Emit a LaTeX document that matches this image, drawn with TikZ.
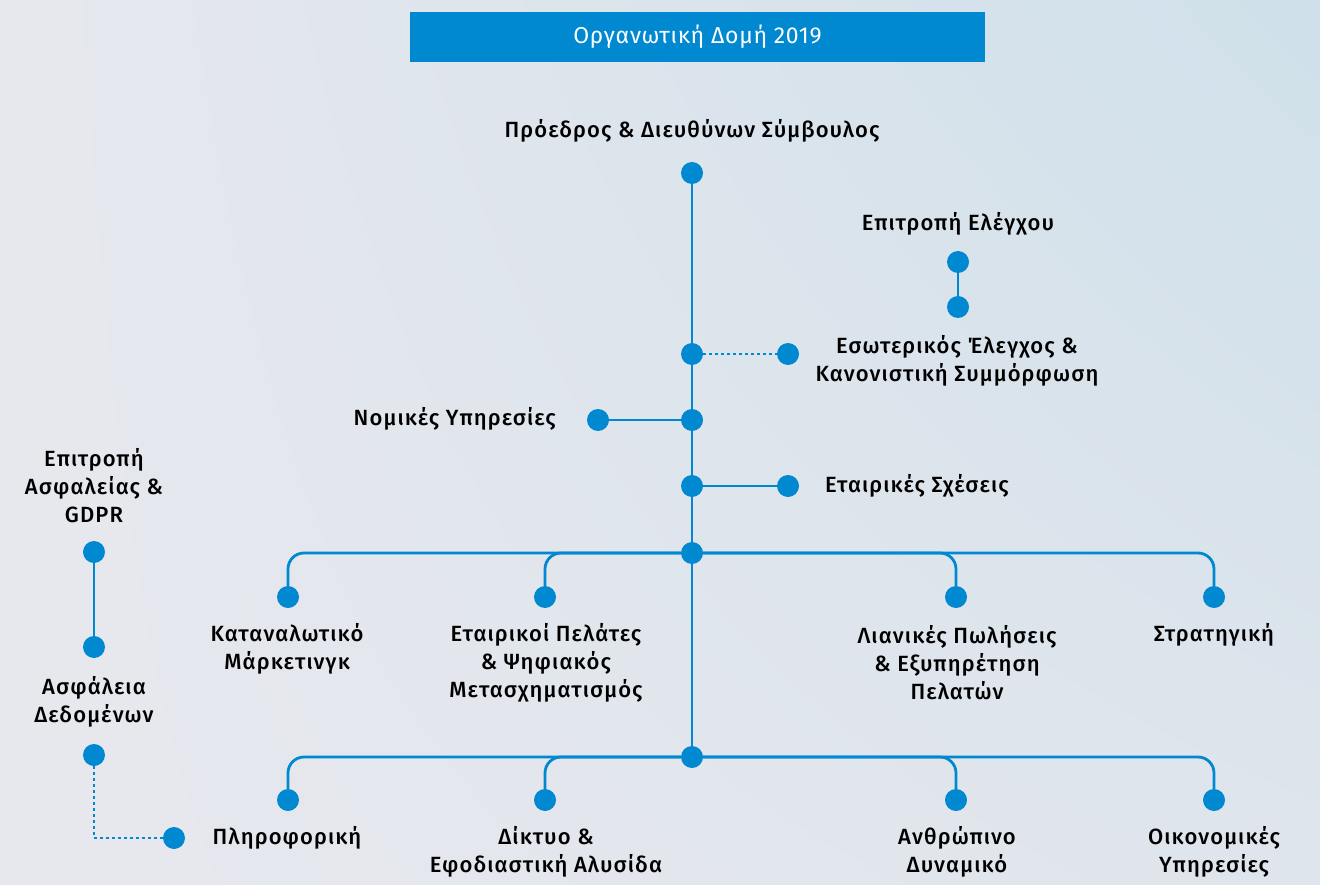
\documentclass[tikz,border=0pt]{standalone}
\usepackage{fontspec}
\setmainfont{Fira Sans}[LetterSpace=3]
\newfontfamily\medio{Fira Sans Medium}[LetterSpace=5]
\usetikzlibrary{positioning,shadings}
\definecolor{blu}{HTML}{0088D1}
\definecolor{sfondoA}{HTML}{E7E8EE}
\definecolor{sfondoB}{HTML}{CFE0EA}
\definecolor{sfondoC}{HTML}{DFE5EC}
\tikzset{
  punto/.style={circle,fill=blu,inner sep=0pt,minimum size=22pt},
  linea/.style={draw=blu,line width=2.8pt},
  punteggiata/.style={draw=blu,line width=2.8pt,dash pattern=on 2.8pt off 3.2pt},
  etichetta/.style={font=\medio\fontsize{22}{28}\selectfont,align=center,text=black,inner sep=0pt}
}
\begin{document}
\begin{tikzpicture}[x=1pt,y=-1pt]

\shade[upper left=sfondoA,upper right=sfondoB,lower left=sfondoA,lower right=sfondoC] (0,0) rectangle (1320,885);
\useasboundingbox (0,0) rectangle (1320,885);
 %titolo
\fill[blu] (410,12) rectangle (985,62);
\node[text=white,font=\fontsize{23}{26}\selectfont] (titolo) at (697.5,37) {Οργανωτική Δομή 2019};
%asse centrale
\node[etichetta] (ceo) at (692,131) {Πρόεδρος \& Διευθύνων Σύμβουλος};
\node[punto] (p0) at (692,173) {};
\node[punto] (p1) at (692,354) {};
\node[punto] (p2) at (692,420) {};
\node[punto] (p3) at (692,486) {};
\node[punto] (p4) at (692,553) {};
\node[punto] (p5) at (692,757) {};
\draw[linea] (p0) -- (p5);
%controllo
\node[etichetta] (comitato) at (958,224) {Επιτροπή Ελέγχου};
\node[punto] (c1) at (958,262) {};
\node[punto] (c2) at (958,307) {};
\draw[linea] (c1) -- (c2);
\node[punto] (ie) at (788,354) {};
\draw[punteggiata] (p1) -- (ie);
\node[etichetta] (audit) at (957,361) {Εσωτερικός Έλεγχος \&\\Κανονιστική Συμμόρφωση};
\node[punto] (nom) at (598,420) {};
\draw[linea] (nom) -- (p2);
\node[etichetta,anchor=east] (legale) at (556,419) {Νομικές Υπηρεσίες};
\node[punto] (rel) at (788,486) {};
\draw[linea] (p3) -- (rel);
\node[etichetta,anchor=west] (societa) at (825,486) {Εταιρικές Σχέσεις};
%primo livello
\foreach \n/\x in {a1/288,a2/545,a3/956,a4/1214}{
  \node[punto] (\n) at (\x,597) {};
  \draw[linea,rounded corners=16pt] (p4) -| (\n);}
\node[etichetta] (mkt) at (287,649) {Καταναλωτικό\\Μάρκετινγκ};
\node[etichetta] (clienti) at (546,663) {Εταιρικοί Πελάτες\\\& Ψηφιακός\\Μετασχηματισμός};
\node[etichetta] (vendite) at (957,663) {Λιανικές Πωλήσεις\\\& Εξυπηρέτηση\\Πελατών};
\node[etichetta] (strat) at (1214,635) {Στρατηγική};
%secondo livello
\foreach \n/\x in {b1/288,b2/545,b3/956,b4/1214}{
  \node[punto] (\n) at (\x,800) {};
  \draw[linea,rounded corners=16pt] (p5) -| (\n);}
\node[etichetta] (it) at (287,838) {Πληροφορική};
\node[etichetta] (rete) at (546,852) {Δίκτυο \&\\Εφοδιαστική Αλυσίδα};
\node[etichetta] (hr) at (957,852) {Ανθρώπινο\\Δυναμικό};
\node[etichetta] (fin) at (1214,852) {Οικονομικές\\Υπηρεσίες};
%sicurezza
\node[etichetta] (gdpr) at (94,486) {Επιτροπή\\Ασφαλείας \&\\GDPR};
\node[punto] (s1) at (94,552) {};
\node[punto] (s2) at (94,647) {};
\draw[linea] (s1) -- (s2);
\node[etichetta] (dati) at (94,702) {Ασφάλεια\\Δεδομένων};
\node[punto] (s3) at (94,755) {};
\node[punto] (s4) at (174,838) {};
\draw[punteggiata] (s3) |- (s4);

\end{tikzpicture}
\end{document}
